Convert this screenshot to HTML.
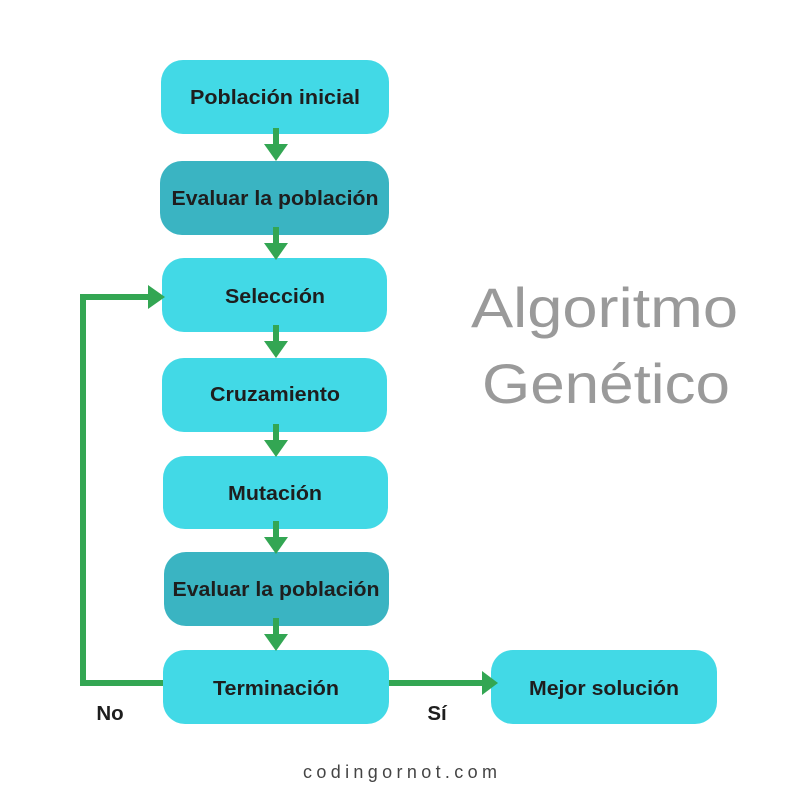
<!DOCTYPE html>
<html><head><meta charset="utf-8"><style>
body{margin:0;background:#fff}
</style></head><body>
<svg width="800" height="800" viewBox="0 0 800 800" xmlns="http://www.w3.org/2000/svg" font-family="Liberation Sans, sans-serif">
<rect width="800" height="800" fill="#fff"/>
<g fill="#42d9e6">
<rect x="161" y="60" width="228" height="74" rx="22"/>
<rect x="162" y="258" width="225" height="74" rx="22"/>
<rect x="162" y="358" width="225" height="74" rx="22"/>
<rect x="163" y="456" width="225" height="73" rx="22"/>
<rect x="163" y="650" width="226" height="74" rx="22"/>
<rect x="491" y="650" width="226" height="74" rx="22"/>
</g>
<g fill="#3ab4c2">
<rect x="160" y="161" width="229" height="74" rx="22"/>
<rect x="164" y="552" width="225" height="74" rx="22"/>
</g>
<g fill="#33a653">
<g id="a"><rect x="273" y="128" width="6" height="18"/><polygon points="264,144 288,144 276,161"/></g>
<use href="#a" y="99"/>
<use href="#a" y="197"/>
<use href="#a" y="296"/>
<use href="#a" y="393"/>
<use href="#a" y="490"/>
<rect x="80" y="294" width="6" height="392"/>
<rect x="80" y="294" width="70" height="6"/>
<polygon points="148,285 148,309 165,297"/>
<rect x="80" y="680" width="83" height="6"/>
<rect x="389" y="680" width="95" height="6"/>
<polygon points="482,671 482,695 498,683"/>
</g>
<g font-weight="bold" font-size="20.5" fill="#1e1e1e" text-anchor="middle">
<text x="275" y="104" textLength="170" lengthAdjust="spacingAndGlyphs">Población inicial</text>
<text x="275" y="205" textLength="207" lengthAdjust="spacingAndGlyphs">Evaluar la población</text>
<text x="275" y="303" textLength="100" lengthAdjust="spacingAndGlyphs">Selección</text>
<text x="275" y="401" textLength="130" lengthAdjust="spacingAndGlyphs">Cruzamiento</text>
<text x="275" y="500" textLength="94" lengthAdjust="spacingAndGlyphs">Mutación</text>
<text x="276" y="596" textLength="207" lengthAdjust="spacingAndGlyphs">Evaluar la población</text>
<text x="276" y="695" textLength="126" lengthAdjust="spacingAndGlyphs">Terminación</text>
<text x="604" y="695" textLength="150" lengthAdjust="spacingAndGlyphs">Mejor solución</text>
<text x="110" y="720">No</text>
<text x="437" y="720">Sí</text>
</g>
<g fill="#9a9a9a" font-size="56">
<text x="471" y="327" textLength="267" lengthAdjust="spacingAndGlyphs">Algoritmo</text>
<text x="482" y="403" textLength="248" lengthAdjust="spacingAndGlyphs">Genético</text>
</g>
<text x="303" y="778" font-size="18" fill="#444" textLength="194">codingornot.com</text>
</svg>
</body></html>
